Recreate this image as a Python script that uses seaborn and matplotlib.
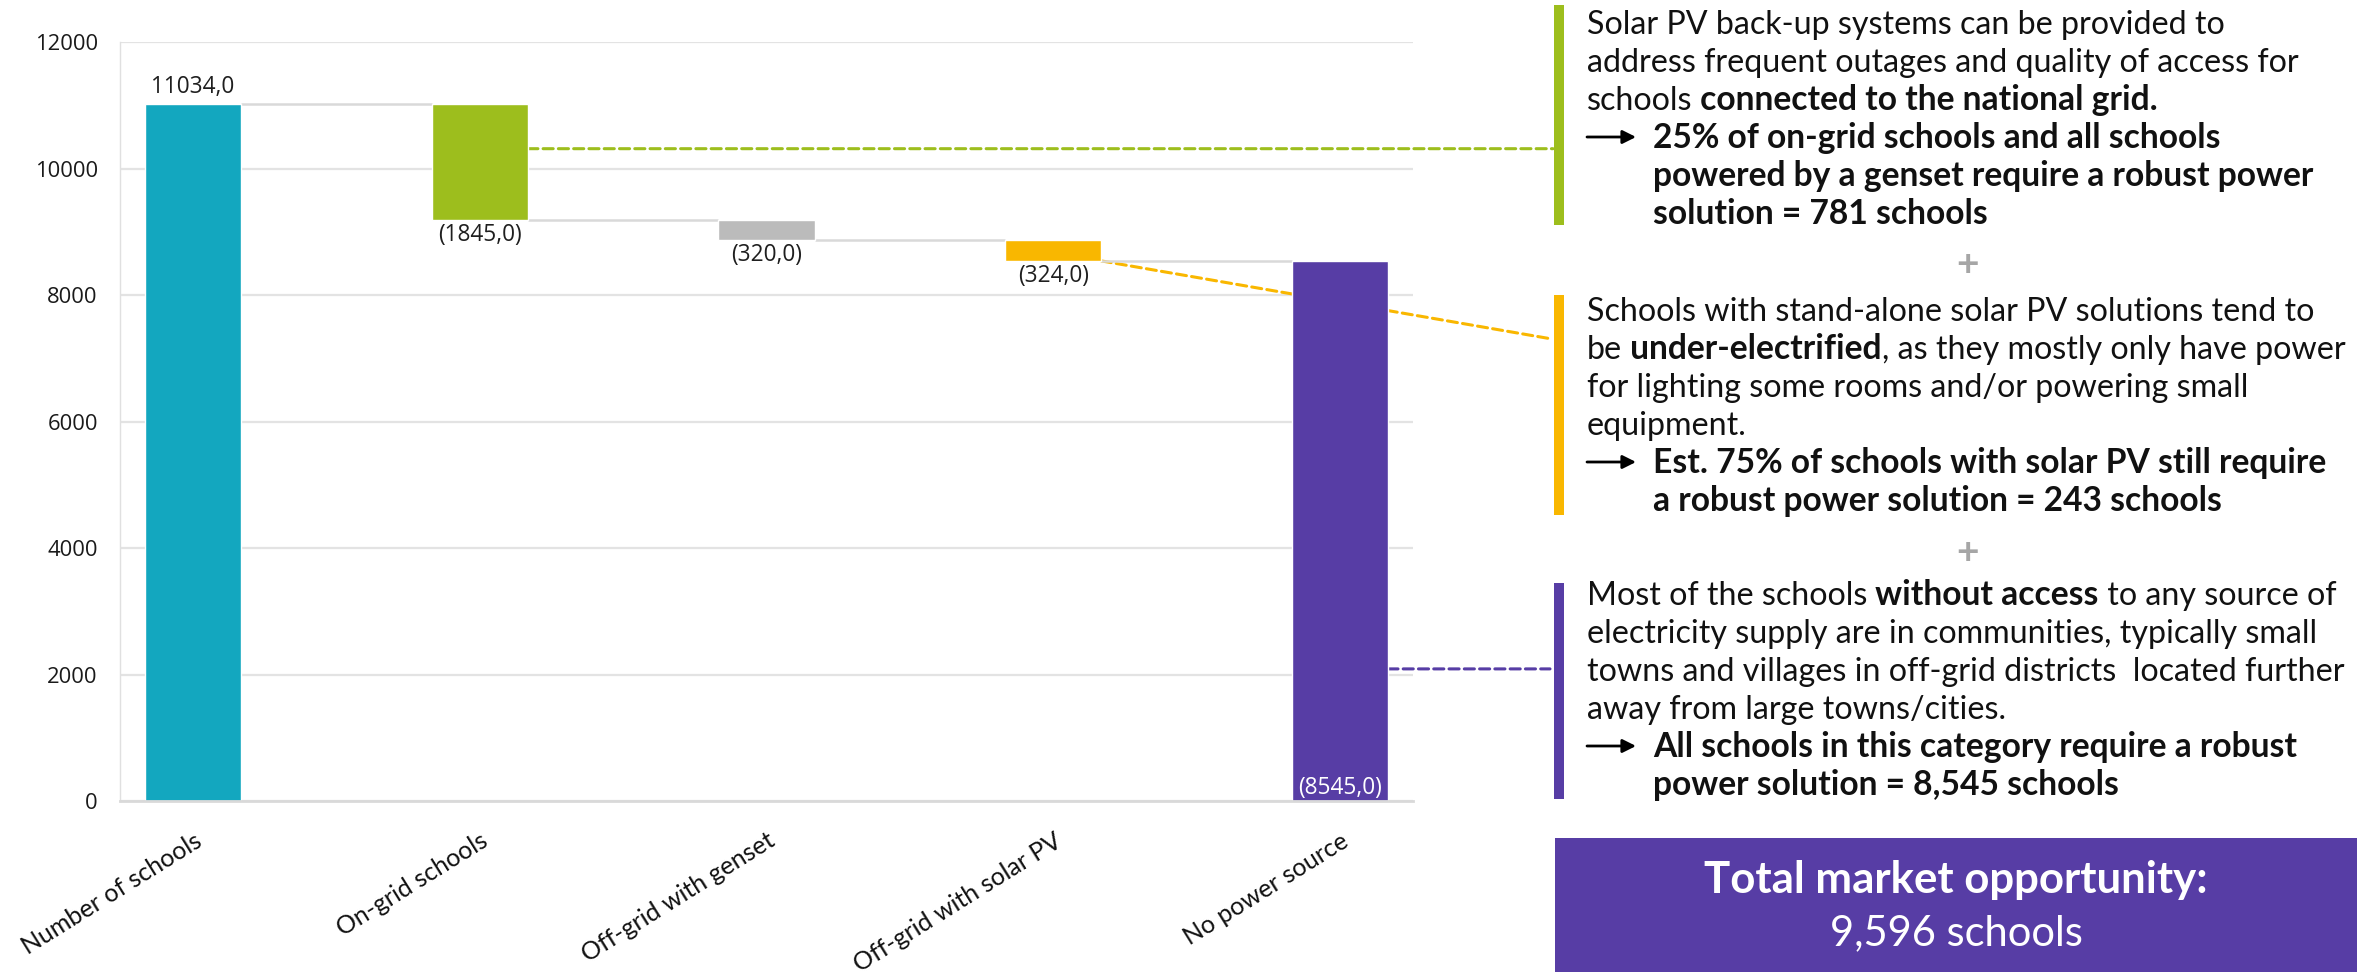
import matplotlib
matplotlib.use("Agg")
import matplotlib.pyplot as plt
import seaborn as sns
import pandas as pd
from matplotlib.patches import Rectangle, FancyArrowPatch, ConnectionPatch

# ---------------- data ----------------
categories = ["Number of schools", "On-grid schools", "Off-grid with genset",
              "Off-grid with solar PV", "No power source"]
changes = [11034.0, -1845.0, -320.0, -324.0, 8545.0]
is_total = [True, False, False, False, True]
value_labels = ["11034,0", "(1845,0)", "(320,0)", "(324,0)", "(8545,0)"]
bar_colors = ["#13A7BF", "#9DBE1D", "#BBBBBB", "#F9B700", "#573DA5"]
yticks = [0, 2000, 4000, 6000, 8000, 10000, 12000]
leader_values = [10320, 8545, 2090]          # where the dashed call-outs leave the bars
leader_bars = [1, 3, 4]

# waterfall geometry from the values
bottoms, tops, levels = [], [], []
running = 0.0
for c, tot in zip(changes, is_total):
    if tot:
        bottoms.append(0.0); tops.append(abs(c)); running = abs(c)
    else:
        new = running + c
        bottoms.append(new); tops.append(running); running = new
    levels.append(running)
heights = [t - b for t, b in zip(tops, bottoms)]

sns.set_theme(style="white")
plt.rcParams["font.family"] = ["Lato", "DejaVu Sans"]

W, H, DPI = 2374, 972, 100
fig = plt.figure(figsize=(W / DPI, H / DPI), dpi=DPI)

# axes placed in pixel terms
L, R, T, B = 120, 1413, 42.5, 801
ax = fig.add_axes([L / W, 1 - B / H, (R - L) / W, (B - T) / H])

df = pd.DataFrame({"category": categories, "height": heights})
BW = 0.335
sns.barplot(data=df, x="category", y="height", hue="category", palette=bar_colors,
            width=BW, saturation=1, legend=False, ax=ax, zorder=2)
for patch, b in zip(ax.patches, bottoms):
    patch.set_y(b)

ax.set_xlim(-0.255, 4.255)
ax.set_ylim(0, 12000)
ax.set_yticks(yticks)
ax.set_yticklabels([str(v) for v in yticks], fontsize=15.8, family="Open Sans", color="#1a1a1a")
ax.set_xlabel("")
ax.set_ylabel("")
ax.set_xticks(range(len(categories)))
ax.set_xticklabels(categories, rotation=32, ha="right", rotation_mode="anchor",
                   fontsize=18, color="#111111")
ax.tick_params(axis="x", length=0, pad=20)
ax.tick_params(axis="y", length=0, pad=16)
ax.yaxis.grid(True, color="#E3E3E3", lw=1.6)
ax.set_axisbelow(True)
for s in ["top", "right"]:
    ax.spines[s].set_visible(False)
ax.spines["left"].set_color("#E0E0E0")
ax.spines["left"].set_linewidth(1.0)
ax.spines["bottom"].set_color("#D9D9D9")
ax.spines["bottom"].set_linewidth(2.0)

# connector lines
for i in range(len(categories) - 1):
    ax.plot([i + BW / 2, i + 1 - BW / 2], [levels[i], levels[i]],
            color="#D9D9D9", lw=1.8, zorder=1.5, solid_capstyle="butt")

# value labels
VFS = 16.3
for i, (lab, b, t, tot) in enumerate(zip(value_labels, bottoms, tops, is_total)):
    if i == 0:
        ax.annotate(lab, (i, t), xytext=(0, 3), textcoords="offset points",
                    ha="center", va="bottom", fontsize=VFS, family="Open Sans", color="#1f1f1f")
    elif tot:
        ax.annotate(lab, (i, b), xytext=(0, 1), textcoords="offset points",
                    ha="center", va="bottom", fontsize=VFS, family="Open Sans", color="white")
    else:
        ax.annotate(lab, (i, b), xytext=(0, -2), textcoords="offset points",
                    ha="center", va="top", fontsize=VFS, family="Open Sans", color="#1f1f1f")

# ---------------- right panel (overlay in pixel coords) ----------------
ov = fig.add_axes([0, 0, 1, 1])
ov.set_xlim(0, W)
ov.set_ylim(H, 0)
ov.axis("off")
inv = ov.transData.inverted()
renderer = fig.canvas.get_renderer()

TXT = "#111111"
FS = 23.2
FSB = 24.2


def rich_line(x, y, segments, color=TXT):
    cx = x
    for s, bold in segments:
        t = ov.text(cx, y, s, fontsize=FSB if bold else FS,
                    fontweight="bold" if bold else "normal",
                    va="baseline", ha="left", color=color)
        bb = t.get_window_extent(renderer)
        cx = inv.transform((bb.x1, bb.y0))[0]


def arrow(y):
    ov.add_patch(FancyArrowPatch((1587, y), (1636, y), arrowstyle="-|>", mutation_scale=20,
                                 lw=2.0, color="black", shrinkA=0, shrinkB=0))


blocks = [
    (bar_colors[1], 5, 225, 34, [
        [("Solar PV back-up systems can be provided to", False)],
        [("address frequent outages and quality of access for", False)],
        [("schools", False), (" connected to the national grid.", True)],
    ], [
        "25% of on-grid schools and all schools",
        "powered by a genset require a robust power",
        "solution = 781 schools",
    ]),
    (bar_colors[3], 295, 515, 321, [
        [("Schools with stand-alone solar PV solutions tend to", False)],
        [("be", False), (" under-electrified", True), (", as they mostly only have power", False)],
        [("for lighting some rooms and/or powering small", False)],
        [("equipment.", False)],
    ], [
        "Est. 75% of schools with solar PV still require",
        "a robust power solution = 243 schools",
    ]),
    (bar_colors[4], 583, 799, 605, [
        [("Most of the schools", False), (" without access", True), (" to any source of", False)],
        [("electricity supply are in communities, typically small", False)],
        [("towns and villages in off-grid districts  located further", False)],
        [("away from large towns/cities.", False)],
    ], [
        "All schools in this category require a robust",
        "power solution = 8,545 schools",
    ]),
]
LS = 38
for col, y0, y1, base, reg_lines, bold_lines in blocks:
    ov.add_patch(Rectangle((1554, y0), 10, y1 - y0, color=col, lw=0))
    y = base
    for segs in reg_lines:
        rich_line(1587, y, segs)
        y += LS
    for j, bl in enumerate(bold_lines):
        if j == 0:
            arrow(y - 11)
        rich_line(1653, y, [(bl, True)])
        y += LS

for py in [264, 552]:
    ov.text(1967, py, "+", ha="center", va="center", fontsize=28, fontweight="bold", color="#A6A6A6")

ov.add_patch(Rectangle((1555, 838), 802, 140, color=bar_colors[4], lw=0))
ov.text(1956, 893, "Total market opportunity:", ha="center", va="baseline",
        fontsize=31.5, fontweight="bold", color="white")
ov.text(1956, 945, "9,596 schools", ha="center", va="baseline", fontsize=30, color="white")

# dashed call-out lines from bars to the text blocks
targets = [(1553, None), (1552, 339), (1550, None)]
for val, bi, (tx, ty) in zip(leader_values, leader_bars, targets):
    xa = bi + BW / 2
    if ty is None:
        ty = inv.transform(ax.transData.transform((xa, val)))[1]
    cp = ConnectionPatch(xyA=(xa, val), coordsA=ax.transData, xyB=(tx, ty), coordsB=ov.transData,
                         color=bar_colors[bi], lw=2.2, linestyle=(0, (3.3, 1.7)), zorder=1.2)
    cp.set_clip_on(False)
    ax.add_artist(cp)

fig.savefig("out.png", dpi=DPI)
